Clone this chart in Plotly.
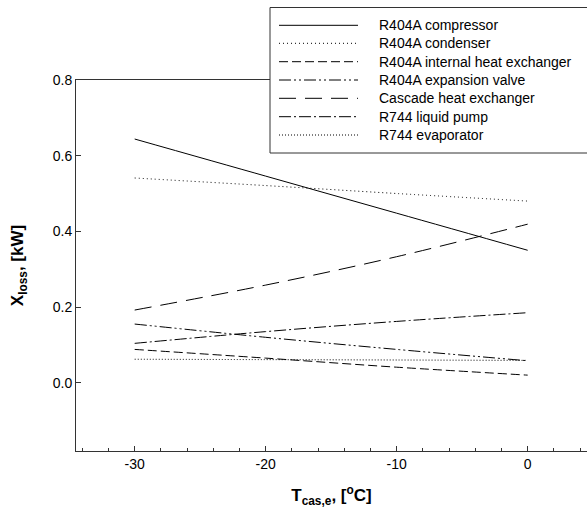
import plotly.graph_objects as go

T = [-30, -20, -10, 0]
x_tick_vals = [-30, -20, -10, 0]
x_tick_text = ["-30", "-20", "-10", "0"]
series_names = [
    "R404A compressor",
    "R404A condenser",
    "R404A internal heat exchanger",
    "R404A expansion valve",
    "Cascade heat exchanger",
    "R744 liquid pump",
    "R744 evaporator",
]
compressor = [0.644, 0.546, 0.448, 0.350]
condenser = [0.541, 0.521, 0.500, 0.480]
internal_hx = [0.088, 0.065, 0.041, 0.020]
expansion_valve = [0.155, 0.120, 0.088, 0.058]
cascade_hx = [0.192, 0.258, 0.333, 0.419]
liquid_pump = [0.104, 0.135, 0.162, 0.185]
evaporator = [0.062, 0.061, 0.060, 0.059]

values = [compressor, condenser, internal_hx, expansion_valve, cascade_hx, liquid_pump, evaporator]
dashes = ["solid", "1px,3px", "9px,4px", "12px,3px,2px,3px,2px,3px", "17px,9px", "12px,3px,2px,3px", "1px,2px"]

W, H = 587, 517
L, R, TOP, B = 76, 0, 80, 66
pw, ph = W - L - R, H - TOP - B

def px(x):
    return (x - L) / pw

def py(y):
    return (H - B - y) / ph

fig = go.Figure()
for name, v, d in zip(series_names, values, dashes):
    fig.add_trace(go.Scatter(x=T, y=v, mode="lines", name=name, showlegend=False,
                             line=dict(color="black", width=1, dash=d, shape="spline")))

font = "Arial, Liberation Sans, sans-serif"
shapes = [dict(type="rect", xref="paper", yref="paper", x0=px(270), x1=px(600), y0=py(153), y1=py(7.5),
               line=dict(color="#333333", width=1), fillcolor="white", layer="above")]
annotations = []
row_y = [25.3, 43.3, 61.7, 80, 98.3, 116.7, 135]
for name, d, ry in zip(series_names, dashes, row_y):
    shapes.append(dict(type="line", xref="paper", yref="paper", x0=px(279), x1=px(358), y0=py(ry), y1=py(ry),
                       line=dict(color="black", width=1, dash=d), layer="above"))
    annotations.append(dict(xref="paper", yref="paper", x=px(377), y=py(ry), text=name, showarrow=False,
                            xanchor="left", yanchor="middle", font=dict(family=font, size=14, color="black")))

fig.update_layout(
    width=W, height=H,
    margin=dict(l=L, r=R, t=TOP, b=B),
    plot_bgcolor="white", paper_bgcolor="white",
    font=dict(family=font, size=14, color="black"),
    shapes=shapes, annotations=annotations,
    xaxis=dict(range=[-34.48, 4.53], tickmode="array", tickvals=x_tick_vals, ticktext=x_tick_text,
               ticks="inside", ticklen=5, tickcolor="#333333",
               showline=True, linecolor="#333333", linewidth=1, mirror=True, showgrid=False, zeroline=False,
               minor=dict(dtick=2, tick0=0, ticks="inside", ticklen=3, tickcolor="#333333"),
               title=dict(text="<b>T<sub>cas,e</sub>, [<sup>o</sup>C]</b>", font=dict(size=17), standoff=18)),
    yaxis=dict(range=[-0.1805, 0.8], tick0=0, dtick=0.2, tickformat=".1f", ticks="inside", ticklen=5,
               tickcolor="#333333", showline=True, linecolor="#333333", linewidth=1, showgrid=False,
               zeroline=False,
               title=dict(text="<b>X<sub>loss</sub>, [kW]</b>", font=dict(size=17), standoff=24)),
)

fig.write_html("out.html")
